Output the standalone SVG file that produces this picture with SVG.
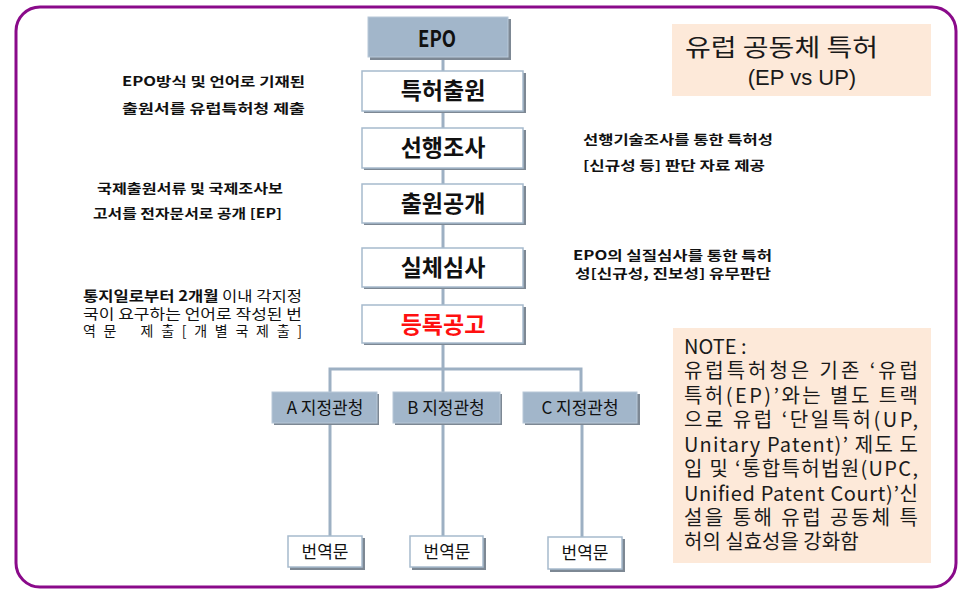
<svg xmlns="http://www.w3.org/2000/svg" width="961" height="590" viewBox="0 0 961 590">
<style>
.frame{fill:#ffffff;stroke:#8a0a8a;stroke-width:3}
.shadow{fill:#7d8894}
.box{fill:#ffffff;stroke:#a7bacd;stroke-width:1.5}
.bluebox{fill:#a2b6ca;stroke:#b8c8d8;stroke-width:1}
.conn{fill:none;stroke:#9db0c3;stroke-width:3}
.main{font-family:"Noto Sans CJK KR","Noto Sans",sans-serif;font-weight:bold;font-size:23px;fill:#111;text-anchor:middle}
.sub{font-family:"Noto Sans CJK KR","Noto Sans",sans-serif;font-size:17px;fill:#111;text-anchor:middle}
.ann{font-family:"Noto Sans CJK KR","Noto Sans",sans-serif;font-weight:bold;font-size:13px;fill:#111}
.ann14{font-family:"Noto Sans CJK KR","Noto Sans",sans-serif;font-size:14px;fill:#111}
.peach{fill:#fde9d9}
.note{font-family:"Noto Sans CJK KR","Noto Sans",sans-serif;font-size:20px;fill:#1a1a1a}
</style>
<rect class="frame" x="16" y="7" width="940" height="580" rx="24"/>

<g id="connectors">
<line class="conn" x1="443" y1="58" x2="443" y2="392"/>
<polyline class="conn" points="330,392 330,369 581,369 581,392"/>
<line class="conn" x1="330" y1="424" x2="330" y2="536"/>
<line class="conn" x1="443" y1="424" x2="443" y2="536"/>
<line class="conn" x1="582" y1="424" x2="582" y2="537"/>
</g>

<g id="node-epo">
<rect class="shadow" x="370" y="19" width="141" height="41"/>
<rect class="bluebox" x="368" y="17" width="140" height="40"/>
<text class="main" x="437" y="47" font-size="27" textLength="38" lengthAdjust="spacingAndGlyphs">EPO</text>
</g>
<g id="node-filing">
<rect class="shadow" x="364" y="73" width="162" height="40"/>
<rect class="box" x="362" y="71" width="161" height="40"/>
<text class="main" x="443" y="99">특허출원</text>
</g>
<g id="node-search">
<rect class="shadow" x="364" y="130" width="162" height="40"/>
<rect class="box" x="362" y="128" width="161" height="40"/>
<text class="main" x="443" y="156">선행조사</text>
</g>
<g id="node-publish">
<rect class="shadow" x="364" y="186" width="162" height="39"/>
<rect class="box" x="362" y="184" width="161" height="39"/>
<text class="main" x="443" y="212">출원공개</text>
</g>
<g id="node-exam">
<rect class="shadow" x="364" y="250" width="162" height="39"/>
<rect class="box" x="362" y="248" width="161" height="39"/>
<text class="main" x="443" y="276">실체심사</text>
</g>
<g id="node-grant">
<rect class="shadow" x="364" y="307" width="162" height="38"/>
<rect class="box" x="362" y="305" width="161" height="38"/>
<text class="main" x="443" y="333" style="fill:#ff1010">등록공고</text>
</g>

<g id="node-office-a">
<rect class="shadow" x="274" y="394" width="105" height="31"/>
<rect class="bluebox" x="272" y="392" width="105" height="31"/>
<text class="sub" x="325" y="414">A 지정관청</text>
</g>
<g id="node-office-b">
<rect class="shadow" x="395" y="394" width="107" height="31"/>
<rect class="bluebox" x="393" y="392" width="107" height="31"/>
<text class="sub" x="446" y="414">B 지정관청</text>
</g>
<g id="node-office-c">
<rect class="shadow" x="525" y="394" width="115" height="31"/>
<rect class="bluebox" x="523" y="392" width="114" height="31"/>
<text class="sub" x="580" y="414">C 지정관청</text>
</g>

<g id="node-trans-a">
<rect class="shadow" x="290" y="538" width="75" height="32"/>
<rect class="box" x="288" y="536" width="74" height="31"/>
<text class="sub" x="325" y="558">번역문</text>
</g>
<g id="node-trans-b">
<rect class="shadow" x="412" y="538" width="74" height="32"/>
<rect class="box" x="410" y="536" width="73" height="31"/>
<text class="sub" x="447" y="558">번역문</text>
</g>
<g id="node-trans-c">
<rect class="shadow" x="550" y="539" width="75" height="33"/>
<rect class="box" x="548" y="537" width="74" height="32"/>
<text class="sub" x="585" y="559">번역문</text>
</g>

<g id="annotations">
<text class="ann" x="122" y="86" font-size="14" textLength="183" lengthAdjust="spacingAndGlyphs">EPO방식 및 언어로 기재된</text>
<text class="ann" x="122" y="113" font-size="14" textLength="183" lengthAdjust="spacingAndGlyphs">출원서를 유럽특허청 제출</text>
<text class="ann" x="97" y="193" textLength="186" lengthAdjust="spacingAndGlyphs">국제출원서류 및 국제조사보</text>
<text class="ann" x="93" y="218" textLength="189" lengthAdjust="spacingAndGlyphs">고서를 전자문서로 공개 [EP]</text>
<text class="ann" x="583" y="144" textLength="190" lengthAdjust="spacingAndGlyphs">선행기술조사를 통한 특허성</text>
<text class="ann" x="583" y="170" textLength="182" lengthAdjust="spacingAndGlyphs">[신규성 등] 판단 자료 제공</text>
<text class="ann" x="573" y="260" font-size="14" textLength="199" lengthAdjust="spacingAndGlyphs">EPO의 실질심사를 통한 특허</text>
<text class="ann" x="575" y="278" font-size="14" textLength="196" lengthAdjust="spacingAndGlyphs">성[신규성, 진보성] 유무판단</text>
<text class="ann14" x="83" y="301" textLength="219" lengthAdjust="spacingAndGlyphs"><tspan font-weight="bold">통지일로부터 2개월</tspan> 이내 각지정</text>
<text class="ann14" x="83" y="319" textLength="219" lengthAdjust="spacingAndGlyphs">국이 요구하는 언어로 작성된 번</text>
<text class="ann14" x="83" y="336" textLength="219" lengthAdjust="spacing" style="white-space:pre">역 문    제 출 [ 개 별 국 제 출 ]</text>
</g>

<g id="title">
<rect class="peach" x="672" y="24" width="259" height="72"/>
<text x="685" y="56" font-family="Noto Sans CJK KR, sans-serif" font-size="24" fill="#1a1a1a" textLength="193" lengthAdjust="spacingAndGlyphs">유럽 공동체 특허</text>
<text x="802" y="85" font-family="Liberation Sans, Arial, sans-serif" font-size="22" fill="#1a1a1a" text-anchor="middle">(EP vs UP)</text>
</g>

<g id="note">
<rect class="peach" x="673" y="328" width="258" height="235"/>
<text class="note"><tspan x="684" y="354">NOTE :</tspan><tspan x="684" y="378" textLength="234" lengthAdjust="spacing">유럽특허청은 기존 ‘유럽</tspan><tspan x="684" y="403" textLength="234" lengthAdjust="spacing">특허(EP)’와는 별도 트랙</tspan><tspan x="684" y="427" textLength="234" lengthAdjust="spacing">으로 유럽 ‘단일특허(UP,</tspan><tspan x="684" y="452" textLength="234" lengthAdjust="spacing">Unitary Patent)’ 제도 도</tspan><tspan x="684" y="476" textLength="234" lengthAdjust="spacing">입 및 ‘통합특허법원(UPC,</tspan><tspan x="684" y="501" textLength="234" lengthAdjust="spacing">Unified Patent Court)’신</tspan><tspan x="684" y="525" textLength="234" lengthAdjust="spacing">설을 통해 유럽 공동체 특</tspan><tspan x="684" y="549">허의 실효성을 강화함</tspan></text>
</g>
</svg>
